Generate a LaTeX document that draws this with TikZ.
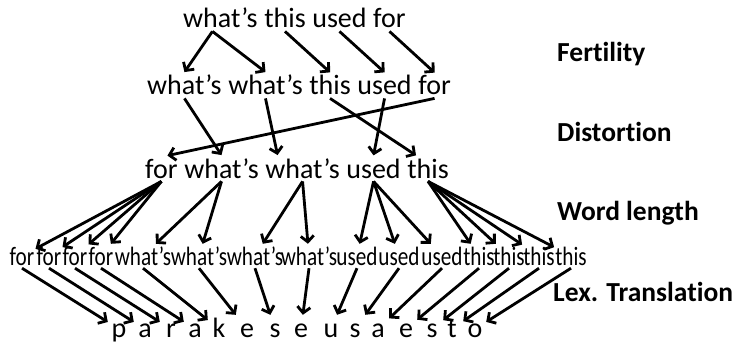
\documentclass[tikz,border=0pt]{standalone}
\usepackage{fontspec}
\setmainfont{Carlito}[Ligatures={TeX,NoCommon}]
\newfontfamily\narrowfam{Carlito}[FakeStretch=0.8,Ligatures={TeX,NoCommon}]
\usetikzlibrary{arrows.meta,positioning}
\newcommand\rowfont{\fontsize{28}{30}\selectfont}
\newcommand\splitfont{\narrowfam\fontsize{26.5}{28}\selectfont}
\newcommand\stagefont{\bfseries\fontsize{27.5}{30}\selectfont}
\tikzset{
  word/.style={inner xsep=0pt,inner ysep=3pt,font=\rowfont},
  piece/.style={inner xsep=1pt,inner ysep=3pt,text height=18pt,text depth=0pt,font=\splitfont},
  letter/.style={minimum width=22pt,inner sep=1pt,text height=21pt,text depth=5pt,font=\rowfont},
  arr/.style={line width=2.8pt,-{Straight Barb[length=6pt,width=13pt]}},
  stage/.style={anchor=base west,inner sep=0pt,font=\stagefont}
}

\begin{document}
\begin{tikzpicture}[x=1pt,y=-1pt,node distance=6.2pt]
\useasboundingbox (0,0) rectangle (737,345);

% source sentence
\node[word,anchor=base west] (s1) at (183,28) {what’s};
\node[word,base right=of s1] (s2) {this};
\node[word,base right=of s2] (s3) {used};
\node[word,base right=of s3] (s4) {for};

% after fertility
\node[word,anchor=base west] (f1) at (147,95) {what’s};
\node[word,base right=of f1] (f2) {what’s};
\node[word,base right=of f2] (f3) {this};
\node[word,base right=of f3] (f4) {used};
\node[word,base right=of f4] (f5) {for};

% after distortion
\node[word,anchor=base west] (d1) at (145,178) {for};
\node[word,base right=of d1] (d2) {what’s};
\node[word,base right=of d2] (d3) {what’s};
\node[word,base right=of d3] (d4) {used};
\node[word,base right=of d4] (d5) {this};

% one copy per output letter
\foreach \x/\w [count=\i] in {22/for,49/for,75/for,101/for,143/what’s,199/what’s,255/what’s,309/what’s,
  357/used,399/used,442/used,479/this,509/this,539/this,571/this}
  \node[piece,anchor=base] (g\i) at (\x,265) {\w};

% letters
\foreach \x/\c [count=\i] in {119/p,145/a,171/r,195/a,219/k,247/e,275/s,301/e,331/u,355/s,378/a,406/e,432/s,452/t,475/o}
  \node[letter,anchor=base] (t\i) at (\x,337) {\c};

% stage labels
\node[stage] (lfert) at (557,62) {Fertility};
\node[stage] (ldist) at (557,141) {Distortion};
\node[stage] (llen) at (557,220) {Word length};
\node[stage] (llex) at (553,301) {Lex. Translation};

\draw[arr] ([xshift=-8pt]s1.south) -- (f1.north);
\draw[arr] ([xshift=-8pt]s1.south) -- (f2.north);
\draw[arr] (s2.south) -- (f3.north);
\draw[arr] (s3.south) -- (f4.north);
\draw[arr] (s4.south) -- (f5.north);

\draw[arr] (f1.south) -- (d2.north);
\draw[arr] (f2.south) -- ([xshift=-25pt]d3.north);
\draw[arr] (f3.south) -- ([xshift=-12pt]d5.north);
\draw[arr] (f4.south) -- (d4.north);
\draw[arr] (f5.south) -- ([xshift=6pt]d1.north);

\foreach \s/\i in {1/1,1/2,1/3,1/4,2/5,2/6,3/7,3/8,4/9,4/10,4/11,5/12,5/13,5/14,5/15}
  \draw[arr] (d\s.south) -- (g\i);

\foreach \i in {1,...,15}
  \draw[arr] (g\i.south) -- (t\i);
\end{tikzpicture}
\end{document}
